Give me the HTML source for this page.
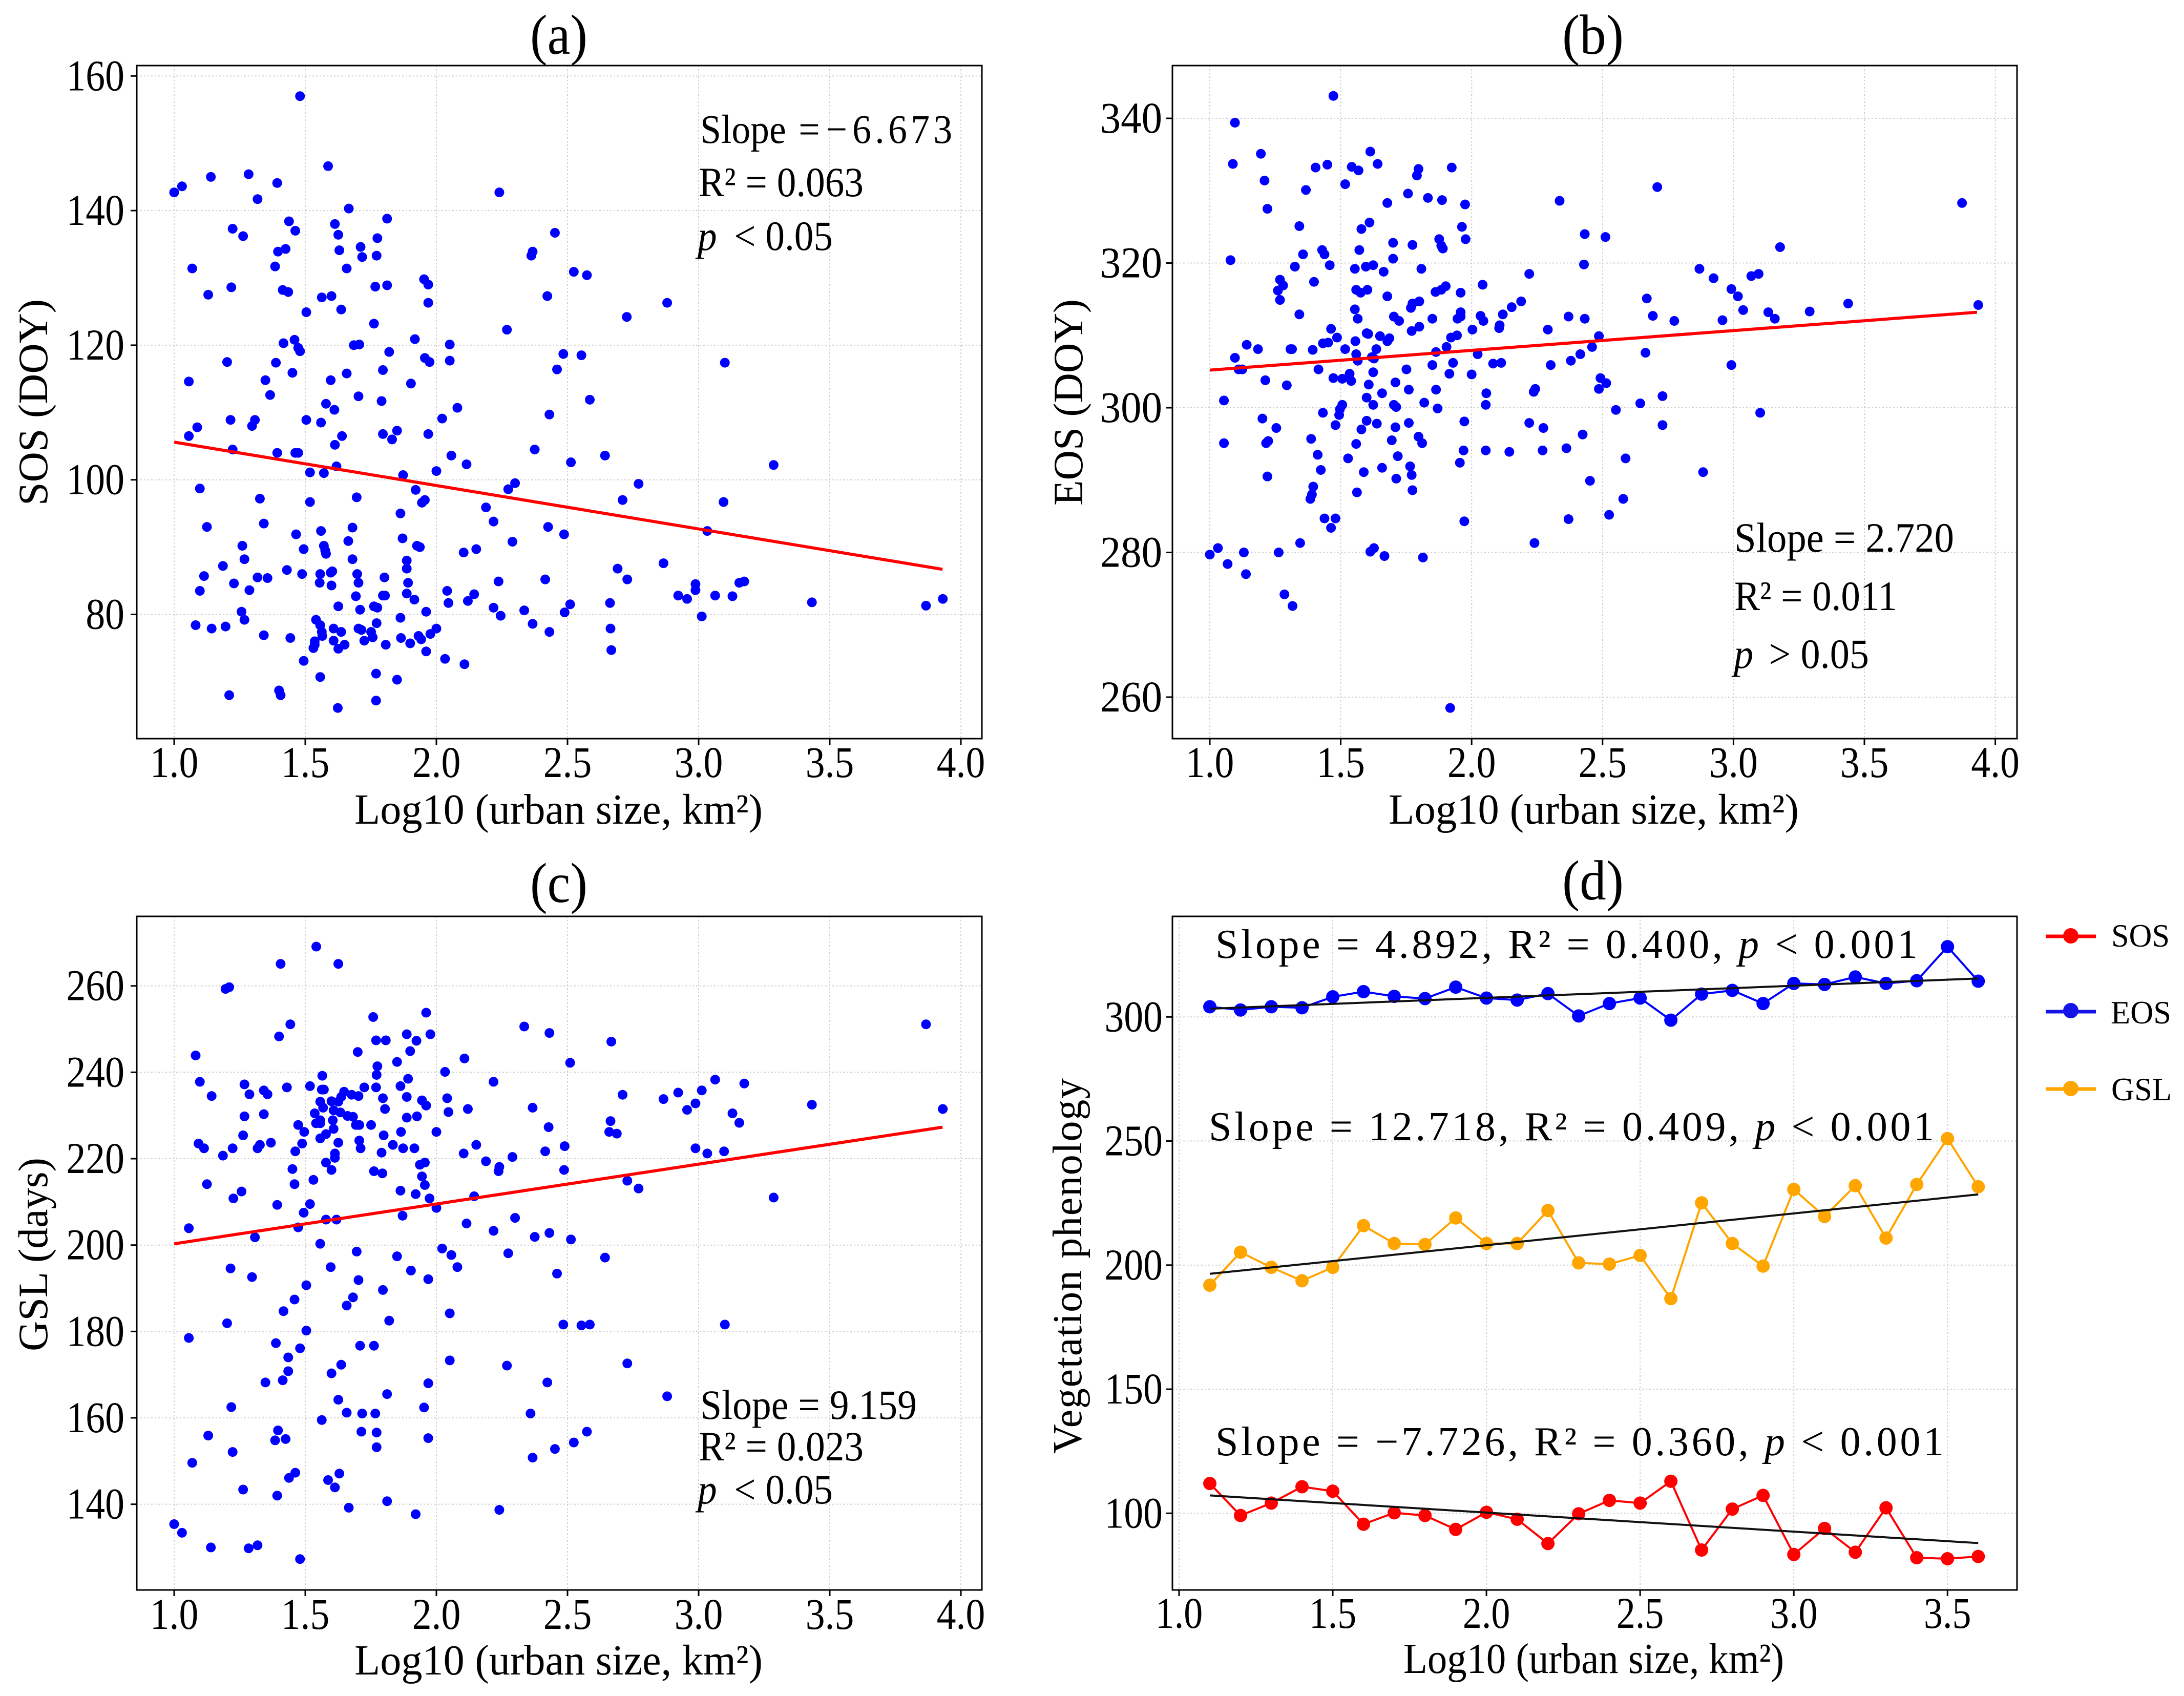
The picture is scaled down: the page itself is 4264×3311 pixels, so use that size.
<!DOCTYPE html>
<html lang="en">
<head>
<meta charset="utf-8">
<title>Vegetation phenology vs urban size</title>
<style>
html,body{margin:0;padding:0;background:#fff}
svg{display:block}
text{font-family:"Liberation Serif",serif;fill:#000}
.tick{font-size:86px}
.title{font-size:110px}
.xlabel{font-size:84px}
.ylabel{font-size:82px}
.note{font-size:82px}
.noted{font-size:80px}
.leg{font-size:64px}
</style>
</head>
<body>
<svg xmlns="http://www.w3.org/2000/svg" width="4264" height="3311" viewBox="0 0 4264 3311">
<rect width="4264" height="3311" fill="#fff"/>

<g id="panel-a"></g>
<g id="panel-b"></g>
<g id="panel-c"></g>
<g id="panel-d"></g>

<!-- titles -->
<text class="title" x="1091" y="105" text-anchor="middle" textLength="112" lengthAdjust="spacingAndGlyphs">(a)</text>
<text class="title" x="3110" y="105" text-anchor="middle" textLength="120" lengthAdjust="spacingAndGlyphs">(b)</text>
<text class="title" x="1091" y="1761" text-anchor="middle" textLength="112" lengthAdjust="spacingAndGlyphs">(c)</text>
<text class="title" x="3110" y="1756" text-anchor="middle" textLength="120" lengthAdjust="spacingAndGlyphs">(d)</text>

<!-- x axis titles -->
<text class="xlabel" x="692" y="1608" textLength="797" lengthAdjust="spacingAndGlyphs">Log10 (urban size, km²)</text>
<text class="xlabel" x="2711" y="1608" textLength="801" lengthAdjust="spacingAndGlyphs">Log10 (urban size, km²)</text>
<text class="xlabel" x="692" y="3269" textLength="797" lengthAdjust="spacingAndGlyphs">Log10 (urban size, km²)</text>
<text class="xlabel" x="2740" y="3266" textLength="743" lengthAdjust="spacingAndGlyphs">Log10 (urban size, km²)</text>

<!-- y axis titles -->
<text class="ylabel" transform="translate(92,987) rotate(-90)" textLength="403" lengthAdjust="spacingAndGlyphs">SOS (DOY)</text>
<text class="ylabel" transform="translate(2113,987) rotate(-90)" textLength="403" lengthAdjust="spacingAndGlyphs">EOS (DOY)</text>
<text class="ylabel" transform="translate(92,2638) rotate(-90)" textLength="378" lengthAdjust="spacingAndGlyphs">GSL (days)</text>
<text class="ylabel" style="font-size:80px" transform="translate(2111,2838) rotate(-90)" textLength="733" lengthAdjust="spacing">Vegetation phenology</text>

<!-- annotations a -->
<g transform="translate(1367,279) scale(.92,1)">
  <text class="note" style="font-size:80px" x="0" y="0">Slope<tspan x="209">=</tspan><tspan x="267">−</tspan><tspan x="323" letter-spacing="8">6.673</tspan></text>
</g>
<text class="note" x="1364" y="383" textLength="322" lengthAdjust="spacingAndGlyphs">R² = 0.063</text>
<text class="note" x="1362" y="488" textLength="264" lengthAdjust="spacingAndGlyphs"><tspan font-style="italic">p</tspan><tspan dx="16"> &lt; 0.05</tspan></text>

<!-- annotations b -->
<text class="note" x="3386" y="1077" textLength="429" lengthAdjust="spacingAndGlyphs">Slope = 2.720</text>
<text class="note" x="3386" y="1191" textLength="318" lengthAdjust="spacingAndGlyphs">R² = 0.011</text>
<text class="note" x="3385" y="1304" textLength="264" lengthAdjust="spacingAndGlyphs"><tspan font-style="italic">p</tspan><tspan dx="12"> &gt; 0.05</tspan></text>

<!-- annotations c -->
<text class="note" x="1367" y="2770" textLength="423" lengthAdjust="spacingAndGlyphs">Slope = 9.159</text>
<text class="note" x="1364" y="2851" textLength="322" lengthAdjust="spacingAndGlyphs">R² = 0.023</text>
<text class="note" x="1362" y="2935" textLength="264" lengthAdjust="spacingAndGlyphs"><tspan font-style="italic">p</tspan><tspan dx="16"> &lt; 0.05</tspan></text>

<!-- annotations d -->
<text class="noted" x="2373" y="1870" textLength="1371" lengthAdjust="spacing">Slope = 4.892, R² = 0.400, <tspan font-style="italic">p</tspan> &lt; 0.001</text>
<text class="noted" x="2360" y="2226" textLength="1416" lengthAdjust="spacing">Slope = 12.718, R² = 0.409, <tspan font-style="italic">p</tspan> &lt; 0.001</text>
<text class="noted" x="2373" y="2841" textLength="1422" lengthAdjust="spacing">Slope = −7.726, R² = 0.360, <tspan font-style="italic">p</tspan> &lt; 0.001</text>

<!-- legend -->
<g>
  <g>
    <line x1="3994" x2="4092" y1="1828" y2="1828" stroke="#ff0000" stroke-width="7"/>
    <circle cx="4043" cy="1827" r="15" fill="#ff0000"/>
    <text class="leg" x="4122" y="1848" textLength="114" lengthAdjust="spacingAndGlyphs">SOS</text>
  </g>
  <g>
    <line x1="3994" x2="4092" y1="1975" y2="1975" stroke="#1414e6" stroke-width="7"/>
    <circle cx="4043" cy="1973" r="15" fill="#1414e6"/>
    <text class="leg" x="4121" y="1998" textLength="118" lengthAdjust="spacingAndGlyphs">EOS</text>
  </g>
  <g>
    <line x1="3994" x2="4092" y1="2126" y2="2126" stroke="#ffa500" stroke-width="7"/>
    <circle cx="4043" cy="2125" r="15" fill="#ffa500"/>
    <text class="leg" x="4122" y="2148" textLength="118" lengthAdjust="spacingAndGlyphs">GSL</text>
  </g>
</g>
</svg>

<script>
// ---- chart data ----
const scatterXTicks = ['1.0','1.5','2.0','2.5','3.0','3.5','4.0'];
const binXTicks = ['1.0','1.5','2.0','2.5','3.0','3.5'];
const sosYTicks = [80,100,120,140,160];
const eosYTicks = [260,280,300,320,340];
const gslYTicks = [140,160,180,200,220,240,260];
const binYTicks = [100,150,200,250,300];

const sosFitX = [1.0,3.93];
const sosFitY = [105.6,86.7];
const eosFitX = [1.0,3.93];
const eosFitY = [305.2,313.2];
const gslFitX = [1.0,3.93];
const gslFitY = [200.3,227.3];

const sosPoints = [[1.48,157],[1.587,146.6],[1,142.7],[1.03,143.6],[1.14,145],[1.284,145.4],[1.393,144.1],[1.318,141.7],[2.24,142.7],[1.666,140.3],[1.812,138.8],[1.438,138.4],[1.613,138],[1.223,137.3],[1.462,137],[1.263,136.2],[1.626,136.4],[1.775,135.9],[2.452,136.7],[1.425,134.3],[1.396,133.9],[1.63,134.1],[1.711,134.6],[1.717,133.1],[1.772,133.3],[2.367,133.9],[2.362,133.3],[1.385,131.7],[1.069,131.4],[1.658,131.4],[2.524,130.9],[2.574,130.4],[1.953,129.8],[1.969,129],[1.218,128.6],[1.414,128.2],[1.435,127.9],[1.767,128.7],[1.812,128.9],[1.13,127.5],[1.563,127.1],[1.6,127.3],[2.423,127.3],[1.969,126.3],[2.88,126.3],[1.637,125.3],[1.504,124.9],[2.726,124.2],[1.762,123.2],[2.269,122.3],[1.918,120.9],[1.459,120.8],[1.417,120.3],[1.706,120.1],[1.685,120],[2.051,120.1],[1.473,119.6],[1.48,119.1],[1.82,119],[2.484,118.7],[2.553,118.5],[1.956,118.1],[1.974,117.5],[2.051,117.7],[1.202,117.5],[1.388,117.4],[3.1,117.4],[2.46,116.4],[1.796,116.3],[1.451,115.9],[1.658,115.8],[1.597,114.8],[1.348,114.8],[1.056,114.6],[1.903,114.3],[1.366,112.6],[1.703,112.4],[2.585,111.9],[1.791,111.7],[1.579,111.3],[1.611,110.4],[2.08,110.7],[2.431,109.7],[2.022,109.1],[1.215,108.9],[1.308,108.9],[1.504,108.9],[1.56,108.5],[1.297,108],[1.088,107.8],[1.85,107.3],[1.796,106.8],[1.969,106.8],[1.056,106.5],[1.64,106.5],[1.831,106],[1.613,105.2],[1.223,104.5],[2.375,104.5],[1.462,104],[1.473,104],[1.393,104],[2.643,103.6],[2.057,103.6],[2.513,102.6],[2.115,102.3],[1.619,102],[3.286,102.2],[2,101.3],[1.518,101.1],[1.571,101],[1.873,100.7],[2.3,99.5],[2.771,99.4],[2.274,98.6],[1.098,98.7],[1.921,98.5],[1.327,97.2],[1.696,97.4],[1.956,97],[1.945,96.6],[2.71,97],[1.518,96.7],[3.095,96.7],[2.189,95.9],[1.863,95],[2.218,93.8],[1.342,93.5],[1.125,93],[1.68,92.9],[2.426,93],[3.033,92.4],[1.56,92.4],[1.465,91.9],[2.487,91.9],[1.871,91.3],[1.664,90.9],[2.29,90.8],[1.926,90.2],[1.937,90],[1.26,90.2],[1.571,90.2],[1.494,89.7],[1.576,89.5],[1.579,89],[2.152,89.7],[2.104,89.2],[1.268,88.2],[1.68,88.2],[1.887,88],[1.186,87.2],[2.866,87.6],[1.887,86.8],[2.691,86.8],[1.43,86.6],[1.488,86],[1.603,86.4],[1.557,86],[1.597,86.2],[1.698,86],[1.114,85.7],[1.318,85.5],[1.356,85.4],[1.802,85.5],[2.728,85.2],[1.703,84.7],[1.892,84.7],[2.237,84.9],[2.415,85.2],[1.555,84.7],[1.228,84.6],[1.6,84.3],[2.988,84.5],[3.174,84.9],[3.155,84.7],[1.287,83.6],[1.098,83.5],[2.041,83.5],[2.988,83.6],[1.887,83.1],[2.144,83],[1.693,82.7],[1.796,82.8],[1.804,82.8],[2.922,82.8],[3.063,82.8],[3.129,82.7],[2.956,82.3],[3.931,82.3],[1.916,82.2],[2.12,82],[2.046,81.7],[2.51,81.5],[2.662,81.7],[3.432,81.8],[3.867,81.3],[1.626,81.2],[1.762,81.2],[1.775,81],[1.709,80.7],[2.218,81],[2.335,80.6],[1.961,80.4],[2.489,80.3],[1.257,80.4],[2.245,79.8],[3.012,79.7],[1.863,79.5],[1.268,79.2],[1.541,79.2],[1.772,78.7],[1.557,78.4],[2.367,78.6],[1.082,78.4],[1.196,78.2],[1.143,77.9],[1.608,77.9],[1.703,77.9],[1.714,77.7],[2,77.9],[2.664,77.9],[1.637,77.4],[1.563,77.4],[1.751,77.4],[2.431,77.4],[1.977,77.1],[1.932,76.8],[1.342,76.9],[1.565,76.8],[1.757,76.6],[1.942,76.3],[1.865,76.5],[1.443,76.5],[1.608,76.1],[1.725,76.1],[1.536,76],[1.9,75.7],[1.65,75.5],[1.807,75.5],[1.536,75.5],[1.531,75],[1.626,74.9],[2.667,74.7],[1.961,74.5],[2.033,73.4],[1.494,73.1],[2.107,72.6],[1.77,71.2],[1.557,70.7],[1.85,70.3],[1.4,68.7],[1.406,68],[1.21,68],[1.77,67.2],[1.624,66.1]];

const eosPoints = [[1.472,343.1],[1.096,339.4],[1.195,335.1],[1.613,335.4],[1.088,333.7],[1.641,333.7],[1.404,333.2],[1.449,333.6],[1.542,333.3],[1.568,332.8],[1.797,333],[1.791,332.1],[1.924,333.2],[1.209,331.4],[1.517,330.9],[2.709,330.5],[1.367,330.1],[1.757,329.6],[1.833,329],[1.887,328.7],[2.336,328.6],[1.678,328.3],[1.975,328.1],[3.873,328.3],[1.22,327.5],[1.61,325.6],[1.342,325.1],[1.963,325],[1.579,324.7],[2.432,324],[2.511,323.6],[1.977,323.3],[1.876,323.3],[1.7,322.8],[1.774,322.5],[1.884,322.4],[1.89,322],[3.178,322.2],[1.571,321.8],[1.429,321.8],[1.438,321.2],[1.356,321.2],[1.7,320.6],[1.079,320.4],[1.458,319.7],[1.325,319.5],[2.429,319.8],[1.596,319.5],[1.624,319.7],[1.554,319.2],[1.808,319.2],[2.87,319.2],[1.664,318.8],[2.22,318.5],[2.924,317.9],[3.068,318.2],[3.096,318.5],[1.268,317.7],[1.398,317.4],[1.28,316.9],[2.042,317],[2.992,316.4],[1.26,316.2],[1.559,316.3],[1.602,316.3],[1.901,316.8],[1.884,316.3],[1.862,316],[1.958,315.9],[1.576,315.9],[1.678,315.4],[3.017,315.4],[2.669,315.1],[1.268,314.9],[1.8,314.7],[1.774,314.4],[2.189,314.7],[3.438,314.4],[3.935,314.2],[1.768,313.8],[2.153,313.9],[1.554,313.6],[3.037,313.5],[3.291,313.3],[3.133,313.2],[1.958,313.2],[2.119,312.9],[1.342,312.9],[2.034,312.7],[2.692,312.7],[1.703,312.6],[2.37,312.6],[1.958,312.6],[1.565,312.3],[1.85,312.3],[1.946,312.3],[2.432,312.3],[1.723,312],[2.045,312],[2.774,312],[2.958,312.1],[3.158,312.3],[2.107,311.4],[1.8,311.2],[2.105,311],[1.463,310.9],[2.003,310.8],[2.291,310.8],[1.771,310.6],[1.599,310.3],[1.605,310.2],[1.65,309.9],[2.486,309.9],[1.944,310],[1.921,309.7],[1.486,309.7],[1.686,309.6],[1.678,309.2],[1.452,309],[1.432,308.9],[1.556,309.2],[1.141,308.7],[2.46,308.4],[1.904,308.4],[1.517,308.1],[1.184,308.1],[1.308,308.1],[1.314,308.1],[1.636,308.1],[1.393,308],[1.864,307.7],[2.664,307.6],[1.559,307.4],[2.023,307.4],[2.415,307.4],[1.619,307],[1.627,306.8],[1.096,306.9],[1.565,306.5],[2.379,306.5],[1.929,306.2],[2.082,306.1],[2.113,306.2],[1.85,305.9],[2.302,305.9],[2.992,305.9],[1.11,305.3],[1.124,305.3],[1.415,305.3],[1.751,305.3],[1.624,304.9],[1.534,304.7],[1.915,304.7],[2,304.6],[1.472,304.1],[1.506,304],[1.54,303.7],[2.492,304.1],[1.212,303.8],[1.607,303.2],[1.294,303.1],[2.514,303.4],[1.709,303.5],[1.76,302.5],[1.864,302.5],[2.486,302.6],[2.243,302.6],[2.237,302.2],[1.658,302],[2.056,302],[2.729,301.6],[1.599,301.4],[1.054,301],[1.819,300.7],[2.644,300.6],[1.624,300.4],[1.703,300.4],[2.054,300.4],[1.506,300.4],[1.712,300.1],[1.497,299.8],[1.87,299.9],[2.551,299.7],[1.432,299.3],[1.494,299],[3.102,299.3],[1.201,298.5],[1.599,298.2],[1.972,298.1],[1.76,297.9],[2.22,297.9],[1.638,297.8],[1.48,297.6],[2.729,297.6],[1.254,297.2],[1.709,297.3],[2.274,297.2],[1.579,297],[2.424,296.3],[1.797,296],[1.387,295.7],[1.695,295.5],[1.223,295.4],[1.215,295.1],[1.054,295.1],[1.811,295.1],[1.559,295],[2.362,294.4],[2.271,294.1],[1.969,294.1],[2.054,294.1],[2.144,293.9],[1.412,293.5],[1.718,293.3],[1.528,293],[2.588,293],[1.955,292.4],[1.765,291.9],[1.658,291.7],[1.424,291.4],[1.588,291.1],[2.884,291.1],[1.771,290.7],[1.22,290.5],[1.712,290.2],[2.452,289.9],[1.395,289.1],[1.774,288.6],[1.562,288.3],[1.39,288],[1.384,287.4],[2.579,287.4],[2.525,285.2],[1.438,284.7],[1.48,284.7],[2.37,284.6],[1.972,284.3],[1.463,283.4],[1.345,281.3],[2.24,281.3],[1.627,280.6],[1.031,280.6],[1.613,280.1],[1.13,280],[1.263,280],[1,279.7],[1.667,279.5],[1.814,279.3],[1.068,278.4],[1.138,277],[1.285,274.2],[1.316,272.6],[1.918,258.5]];

const gslPoints = [[1.542,269.1],[1.406,265.1],[1.626,265.1],[1.21,259.7],[1.196,259.3],[1.961,253.8],[1.759,252.8],[1.443,251.1],[3.867,251.1],[2.335,250.6],[2.431,249.1],[1.887,248.8],[1.977,248.8],[1.4,248.3],[1.77,247.4],[1.807,247.4],[1.924,247.3],[2.667,247.1],[1.9,244.9],[1.7,244.7],[1.082,243.9],[2.107,243.2],[1.85,242.4],[2.51,242.2],[1.775,241.4],[2.033,240.1],[1.772,239.4],[1.565,239.2],[1.892,238.5],[3.063,238.3],[1.098,237.8],[2.218,237.8],[3.174,237.4],[1.268,237.2],[1.518,236.8],[1.43,236.5],[1.77,236.5],[1.863,236.8],[1.725,236.5],[1.571,236],[1.563,236],[1.342,235.8],[3.012,235.8],[1.648,235.5],[2.922,235.3],[1.287,234.9],[1.356,234.9],[1.143,234.5],[1.677,234.8],[1.703,234.5],[2.71,234.8],[1.887,234.3],[1.637,234.3],[1.796,234],[2.041,234],[1.945,233.5],[2.866,233.8],[1.6,233.3],[1.557,233.2],[1.626,233.2],[2.988,232.8],[3.432,232.5],[1.961,232.3],[1.568,231.8],[1.804,231.5],[2.12,231.5],[2.367,231.8],[3.931,231.5],[1.608,231.2],[2.956,231.3],[2.046,230.8],[1.536,230.5],[1.634,230.7],[3.129,230.5],[1.342,230.3],[1.268,229.8],[1.661,229.9],[1.682,229.7],[1.926,229.8],[1.887,229.5],[1.557,228.9],[1.605,228.9],[2.664,228.7],[1.541,228.2],[1.557,228.2],[1.473,227.8],[1.693,227.8],[1.706,227.8],[1.751,227.8],[3.155,228.3],[2.428,227.3],[1.608,226.9],[1.496,226.2],[2,226.2],[1.865,226.2],[2.659,226.2],[2.688,225.8],[1.579,225.7],[1.263,225.4],[1.799,225.4],[1.557,224.7],[1.706,224.2],[1.626,223.7],[1.093,223.5],[1.369,223.7],[1.488,223.5],[1.327,223.2],[1.834,223.2],[2.152,223.2],[2.489,222.9],[1.711,222.4],[1.114,222.4],[1.223,222.4],[1.318,222.4],[1.873,222.4],[1.916,222.4],[2.988,222.4],[1.462,221.7],[3.097,221.7],[1.791,221.4],[2.415,221.7],[2.104,221.2],[3.033,221.2],[1.613,221.2],[1.186,220.7],[2.29,220.4],[1.613,220.2],[2.189,219.4],[1.579,219.1],[1.956,219.1],[1.937,218.6],[2.24,218.1],[1.6,217.4],[1.451,217.6],[2.487,217.4],[2.237,217.1],[1.762,217.1],[1.794,216.6],[1.945,215.9],[1.531,215.1],[2.728,214.9],[1.459,214.1],[1.125,214.1],[1.956,213.9],[2.771,213.1],[1.863,212.6],[1.257,212.4],[1.921,211.8],[2.144,211.3],[1.226,210.8],[1.974,210.8],[3.286,211],[1.518,209.5],[1.393,209.3],[2,208.6],[1.494,207.5],[1.871,206.8],[2.3,206.3],[1.579,205.9],[1.619,205.9],[2.115,205],[1.473,204.1],[1.056,203.9],[2.218,203.3],[2.431,202.8],[2.375,201.9],[1.308,201.8],[2.513,201.3],[1.557,200.3],[2.022,199.2],[1.696,198.5],[2.057,197.7],[2.274,198.1],[1.85,197.4],[2.643,197.1],[1.215,194.6],[1.597,194.9],[2.08,194.9],[1.903,194.1],[2.46,193.4],[1.297,192.6],[1.969,192.1],[1.703,191.9],[1.504,190.7],[1.796,189.6],[1.682,187.9],[1.459,187.4],[1.658,186],[1.417,184.7],[2.051,184.2],[1.82,182.5],[1.202,181.9],[2.484,181.6],[2.553,181.4],[2.585,181.6],[3.1,181.6],[1.504,180.2],[1.056,178.5],[1.388,177.3],[1.709,176.7],[1.762,176.7],[1.48,176.1],[1.435,174],[2.051,173.3],[1.637,172.3],[2.728,172.6],[2.269,172.1],[1.435,170.8],[1.6,170.3],[1.414,168.7],[1.348,168.2],[2.423,168.2],[1.969,168],[1.812,165.5],[2.88,165],[1.626,164.2],[1.218,162.5],[1.953,162.4],[1.658,161.2],[1.717,161],[1.767,161],[2.359,161],[1.563,159.5],[1.396,157.1],[1.714,156.8],[1.772,156.6],[2.574,156.8],[1.13,155.9],[1.425,155.1],[1.969,155.3],[1.385,154.8],[2.524,154.3],[1.772,153.2],[2.452,152.8],[1.223,152.1],[2.367,150.8],[1.069,149.6],[1.462,147.3],[1.63,147.1],[1.438,146.1],[1.587,145.6],[1.613,143.9],[1.263,143.4],[1.393,142],[1.812,140.7],[1.666,139.2],[2.24,138.7],[1.921,137.7],[1,135.4],[1.03,133.4],[1.318,130.5],[1.14,130],[1.284,129.8],[1.48,127.3]];

const binSizes = [1.1,1.2,1.3,1.4,1.5,1.6,1.7,1.8,1.9,2.0,2.1,2.2,2.3,2.4,2.5,2.6,2.7,2.8,2.9,3.0,3.1,3.2,3.3,3.4,3.5,3.6];
const binSOS = [112,99.1,104.1,110.7,108.9,95.6,100.2,99.1,93.5,100.4,97.6,87.8,99.8,105.2,104.1,112.9,85.2,101.7,107.2,83.4,93.9,84.3,102.2,82.1,81.7,82.6];
const binEOS = [304.1,302.8,304.1,303.7,308.1,310.2,308.3,307.4,312,307.6,306.8,309.4,300.4,305.4,307.6,298.7,309.2,310.7,305.4,313.5,313.1,316.1,313.5,314.6,328.3,314.4];
const binGSL = [191.9,205.2,199.1,193.7,199.1,215.9,208.7,208.3,219,208.7,208.7,222,200.9,200.4,203.9,186.5,225.1,208.7,199.6,230.5,219.6,232,210.9,232.5,251,231.6];
const binFitX = [1.1,3.6];
const binFitSOS = [107.2,88];
const binFitEOS = [303.3,315.5];
const binFitGSL = [196.5,228.5];

// ---- axis functions ----
const NS = 'http://www.w3.org/2000/svg';
function mk(parent, tag, attrs){
  const el = document.createElementNS(NS, tag);
  for (const k in attrs) el.setAttribute(k, attrs[k]);
  parent.appendChild(el);
  return el;
}
function squeeze(el, factor){
  el.setAttribute('textLength', el.getComputedTextLength() * factor);
  el.setAttribute('lengthAdjust', 'spacingAndGlyphs');
}
const scaleLeftX = v => 340 + 512 * (v - 1);
const scaleRightX = v => 2362 + 511.2 * (v - 1);
const scaleBinX = v => 2302 + 600.1 * (v - 1);
const scaleSosY = v => 1199.5 - 13.14 * (v - 80);
const scaleEosY = v => 796 - 14.124 * (v - 300);
const scaleGslY = v => 2430.7 - 8.433 * (v - 200);
const scaleBinY = v => 2954.3 - 4.845 * (v - 100);

function drawGrid(g, box, xTicks, yTicks, sx, sy){
  xTicks.forEach(t => {
    const el = mk(g, 'line', {x1:sx(+t), x2:sx(+t), y1:box.t, y2:box.b, stroke:'#cfcfcf', 'stroke-width':2, 'stroke-dasharray':'3 4'});
    
    
  });
  yTicks.forEach(t => {
    const el = mk(g, 'line', {x1:box.l, x2:box.r, y1:sy(t), y2:sy(t), stroke:'#cfcfcf', 'stroke-width':2, 'stroke-dasharray':'3 4'});
    
    
  });
}
function drawAxes(g, box, xTicks, yTicks, sx, sy, yLabelX, xLabelY, xFactor, yFactor){
  const frame = mk(g, 'rect', {x:box.l, y:box.t, width:box.r-box.l, height:box.b-box.t, fill:'none', stroke:'#000', 'stroke-width':3});
  
  
  xTicks.forEach(t => {
    const tick = mk(g, 'line', {x1:sx(+t), x2:sx(+t), y1:box.b, y2:box.b+12, stroke:'#000', 'stroke-width':3});
    
    
    const lab = mk(g, 'text', {x:sx(+t), y:xLabelY, 'text-anchor':'middle', class:'tick'});
    lab.textContent = t;
    
    
    squeeze(lab, xFactor);
  });
  yTicks.forEach(t => {
    const tick = mk(g, 'line', {x1:box.l-12, x2:box.l, y1:sy(t), y2:sy(t), stroke:'#000', 'stroke-width':3});
    
    
    const lab = mk(g, 'text', {x:yLabelX, y:sy(t)+28, 'text-anchor':'end', class:'tick'});
    lab.textContent = String(t);
    
    
    squeeze(lab, yFactor);
  });
}
function drawScatter(g, points, fitX, fitY, sx, sy){
  points.forEach(p => {
    const dot = mk(g, 'circle', {cx:sx(p[0]), cy:sy(p[1]), r:9.5, fill:'#0000ff'});
    
    
  });
  const fit = mk(g, 'line', {x1:sx(fitX[0]), y1:sy(fitY[0]), x2:sx(fitX[1]), y2:sy(fitY[1]), stroke:'#ff0000', 'stroke-width':6});
  
  
}
function drawBinned(g, values, fit, color, sx, sy){
  const pts = binSizes.map((x,i) => sx(x) + ',' + sy(values[i])).join(' ');
  const line = mk(g, 'polyline', {points:pts, fill:'none', stroke:color, 'stroke-width':4});
  
  
  binSizes.forEach((x,i) => {
    const dot = mk(g, 'circle', {cx:sx(x), cy:sy(values[i]), r:13, fill:color});
    
    
  });
  const tr = mk(g, 'line', {x1:sx(binFitX[0]), y1:sy(fit[0]), x2:sx(binFitX[1]), y2:sy(fit[1]), stroke:'#111', 'stroke-width':4});
  
  
}

// ---- panels ----
const topBoxLeft = {l:267, r:1917, t:128, b:1442};
const topBoxRight = {l:2289, r:3938, t:128, b:1442};
const lowBoxLeft = {l:267, r:1917, t:1789, b:3104};
const lowBoxRight = {l:2289, r:3938, t:1789, b:3104};

const pa = document.getElementById('panel-a');
drawGrid(pa, topBoxLeft, scatterXTicks, sosYTicks, scaleLeftX, scaleSosY);
drawScatter(pa, sosPoints, sosFitX, sosFitY, scaleLeftX, scaleSosY);
drawAxes(pa, topBoxLeft, scatterXTicks, sosYTicks, scaleLeftX, scaleSosY, 243, 1517, 0.88, 0.88);

const pb = document.getElementById('panel-b');
drawGrid(pb, topBoxRight, scatterXTicks, eosYTicks, scaleRightX, scaleEosY);
drawScatter(pb, eosPoints, eosFitX, eosFitY, scaleRightX, scaleEosY);
drawAxes(pb, topBoxRight, scatterXTicks, eosYTicks, scaleRightX, scaleEosY, 2269, 1517, 0.88, 0.94);

const pc = document.getElementById('panel-c');
drawGrid(pc, lowBoxLeft, scatterXTicks, gslYTicks, scaleLeftX, scaleGslY);
drawScatter(pc, gslPoints, gslFitX, gslFitY, scaleLeftX, scaleGslY);
drawAxes(pc, lowBoxLeft, scatterXTicks, gslYTicks, scaleLeftX, scaleGslY, 243, 3180, 0.88, 0.88);

const pd = document.getElementById('panel-d');
drawGrid(pd, lowBoxRight, binXTicks, binYTicks, scaleBinX, scaleBinY);
drawBinned(pd, binSOS, binFitSOS, '#ff0000', scaleBinX, scaleBinY);
drawBinned(pd, binEOS, binFitEOS, '#0000ff', scaleBinX, scaleBinY);
drawBinned(pd, binGSL, binFitGSL, '#ffa500', scaleBinX, scaleBinY);
drawAxes(pd, lowBoxRight, binXTicks, binYTicks, scaleBinX, scaleBinY, 2270, 3178, 0.86, 0.88);
</script>
</body>
</html>
